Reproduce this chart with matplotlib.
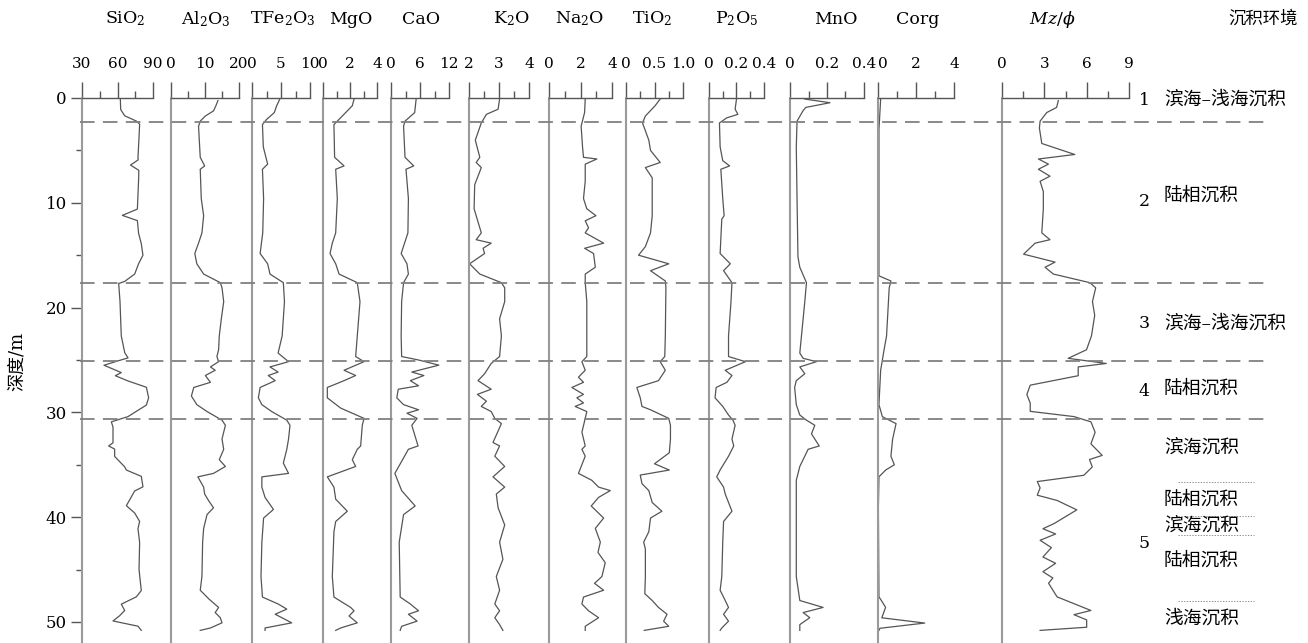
import matplotlib
matplotlib.use('Agg')
import matplotlib.pyplot as plt

# ---- data (depth in m, oxide contents) ----
sio2_depth = [0.1, 1.1, 1.7, 2.2, 2.5, 3.7, 5.7, 5.9, 6.4, 6.9, 7.6, 10.6, 11.2, 11.7, 12.9, 13.9, 15.0,
              15.8, 16.8, 17.5, 17.7, 19.4, 22.7, 24.3, 24.8, 25.1, 25.5, 26.2, 26.5, 27.0, 27.6, 28.6,
              29.3, 29.9, 30.4, 30.9, 31.4, 32.9, 33.2, 33.5, 34.2, 35.2, 35.5, 36.1, 37.1, 37.5, 38.9,
              39.6, 40.4, 41.1, 42.4, 45.0, 47.0, 47.6, 48.3, 48.9, 49.4, 49.9, 50.4, 50.8]
sio2 = [62.4, 62.7, 66.1, 75.9, 78.7, 78.2, 77.3, 77.5, 71.0, 78.0, 77.9, 76.8, 64.1, 76.8, 77.8, 80.1, 81.5,
        77.9, 74.5, 66.1, 61.0, 62.1, 63.2, 66.1, 68.9, 59.9, 48.6, 63.2, 58.2, 68.9, 84.4, 86.3,
        84.4, 75.9, 68.9, 54.8, 56.2, 56.2, 52.5, 57.6, 57.6, 66.1, 67.5, 80.1, 81.5, 74.5, 67.5,
        74.5, 78.7, 77.3, 78.7, 78.2, 80.1, 75.9, 63.2, 66.1, 61.8, 56.2, 77.3, 80.1]

al2o3_depth = [0.25, 0.74, 1.23, 1.72, 2.21, 2.7, 5.66, 6.48, 6.8, 9.59, 11.23, 12.87, 13.85, 14.84, 15.82,
               16.8, 17.62, 18.11, 19.43, 21.07, 22.7, 24.02, 24.67, 25.16, 25.66, 25.98, 26.48, 27.13,
               27.62, 28.44, 29.26, 29.92, 30.74, 31.23, 32.54, 33.52, 34.51, 35.16, 35.82, 36.15, 37.13,
               37.79, 38.44, 39.1, 39.75, 41.07, 42.38, 45.66, 46.97, 47.79, 48.61, 49.1, 49.59, 50.08,
               50.57, 50.8]
al2o3 = [13.8, 13.2, 12.5, 10.1, 8.6, 8.1, 8.6, 9.9, 8.6, 8.9, 9.6, 9.1, 8.1, 7.0, 7.6,
         9.6, 14.5, 15.0, 15.5, 14.8, 14.2, 14.0, 13.5, 14.0, 11.6, 13.0, 10.1, 11.6,
         6.7, 6.0, 7.6, 10.6, 15.0, 16.0, 15.0, 15.5, 14.2, 16.0, 12.5, 7.9, 9.6,
         9.9, 11.1, 12.5, 10.6, 9.6, 9.3, 9.1, 8.6, 11.1, 14.0, 13.0, 14.5, 15.0,
         11.6, 8.6]

tfe2o3_depth = [0.1, 0.74, 1.39, 2.05, 2.54, 4.67, 6.31, 6.8, 9.59, 12.87, 14.84, 15.82, 16.8, 17.62, 19.43,
                22.7, 24.34, 25.16, 25.66, 26.15, 26.48, 26.97, 27.62, 28.61, 29.26, 29.92, 30.74, 31.23,
                32.54, 33.52, 34.84, 35.82, 36.15, 37.13, 38.11, 39.26, 40.08, 42.38, 45.66, 47.62, 48.28,
                48.77, 49.26, 50.08, 50.57, 50.8]
tfe2o3 = [4.8, 4.25, 3.85, 2.5, 1.8, 1.95, 2.7, 1.8, 2.0, 1.85, 1.4, 2.7, 3.1, 5.4, 5.6,
          5.2, 4.5, 6.3, 3.1, 4.5, 2.8, 4.0, 1.4, 1.1, 1.7, 3.4, 6.0, 6.55,
          6.3, 6.0, 5.4, 6.3, 1.7, 1.7, 2.25, 3.7, 2.0, 1.7, 1.55, 1.8, 4.5,
          6.0, 4.0, 6.85, 2.25, 2.25]

mgo_depth = [0.1, 0.74, 1.72, 2.54, 5.66, 6.48, 6.8, 9.59, 12.87, 13.85, 14.84, 15.82, 16.8, 17.62, 19.43,
             22.7, 24.67, 25.16, 25.98, 26.48, 26.97, 27.62, 28.61, 29.59, 30.57, 31.23, 33.2, 33.52, 34.51,
             35.16, 36.15, 37.13, 38.28, 39.43, 40.41, 41.39, 45.66, 47.62, 48.61, 48.93, 49.43, 50.08,
             50.57, 50.8]
mgo = [2.3, 2.17, 1.43, 0.81, 0.86, 1.56, 0.94, 1.06, 0.94, 0.69, 0.52, 0.94, 1.19, 2.54, 2.74,
       2.54, 2.42, 3.04, 1.56, 2.42, 1.56, 0.32, 0.32, 1.31, 3.04, 2.91, 2.79, 2.54, 2.17,
       2.42, 0.32, 0.81, 0.94, 1.8, 0.94, 0.81, 0.69, 0.81, 2.05, 2.3, 1.93, 2.54,
       1.31, 0.94]

cao_depth = [0.1, 1.39, 2.21, 2.7, 5.66, 6.48, 6.8, 9.59, 12.87, 14.84, 15.82, 16.8, 17.62, 19.43, 22.7,
             24.67, 25.0, 25.49, 26.15, 26.48, 26.97, 27.46, 27.79, 28.61, 29.26, 29.75, 30.08, 30.57,
             31.23, 33.2, 33.52, 35.82, 37.46, 38.93, 39.75, 42.38, 47.62, 48.28, 48.93, 49.26, 49.92,
             50.41, 50.8]
cao = [5.2, 4.9, 2.9, 2.6, 2.9, 4.7, 3.1, 3.6, 3.5, 2.1, 3.3, 3.6, 2.6, 2.2, 2.1,
       2.2, 5.7, 9.9, 4.3, 6.8, 4.0, 5.7, 1.5, 1.2, 2.6, 5.7, 3.3, 5.4,
       4.3, 5.6, 3.6, 0.8, 2.2, 5.0, 2.6, 1.7, 1.9, 4.0, 5.7, 3.6, 5.4,
       2.2, 1.9]

k2o_depth = [0.1, 1.07, 1.56, 2.38, 4.02, 5.66, 6.15, 6.64, 8.28, 10.57, 12.87, 13.52, 13.85, 14.34, 14.84,
             15.82, 16.8, 17.62, 18.11, 19.43, 21.07, 22.7, 24.67, 25.33, 26.31, 26.97, 27.79, 28.28,
             28.93, 29.43, 29.92, 30.57, 31.07, 32.87, 33.2, 34.18, 35.16, 36.15, 37.13, 37.79, 39.1,
             40.74, 42.38, 44.02, 45.66, 46.97, 48.28, 48.93, 49.59, 50.25, 50.8]
k2o = [3.02, 2.97, 2.58, 2.41, 2.21, 2.36, 2.24, 2.41, 2.19, 2.17, 2.41, 2.24, 2.74, 2.47, 2.52,
       2.02, 2.36, 3.08, 3.19, 3.19, 3.02, 3.08, 3.02, 2.74, 2.52, 2.3, 2.74, 2.28,
       2.58, 2.41, 2.74, 2.86, 3.08, 2.8, 3.02, 2.86, 3.19, 2.8, 3.19, 2.91, 2.97,
       3.19, 3.02, 3.13, 2.91, 3.02, 2.86, 3.02, 2.86, 3.02, 3.13]

na2o_depth = [0.1, 1.39, 2.7, 4.67, 5.66, 5.82, 6.31, 7.95, 9.59, 10.57, 11.23, 11.72, 12.38, 12.87, 13.85,
              14.34, 14.84, 16.15, 16.8, 17.62, 19.43, 22.7, 24.67, 25.16, 25.98, 26.64, 27.13, 27.62,
              28.28, 28.61, 29.1, 29.43, 29.92, 30.57, 31.89, 33.2, 33.52, 34.18, 35.82, 36.48, 37.13,
              37.46, 38.11, 38.93, 40.08, 41.07, 42.38, 43.36, 44.34, 45.66, 46.31, 46.97, 47.62, 48.28,
              48.93, 49.59, 50.41, 50.8]
na2o = [2.3, 2.26, 2.04, 2.13, 2.19, 3.04, 2.3, 2.3, 2.19, 2.4, 2.98, 2.3, 2.51, 2.3, 3.47,
        2.26, 2.83, 2.94, 2.3, 2.3, 2.4, 2.4, 2.4, 2.09, 2.3, 1.87, 2.19, 1.45,
        2.19, 1.77, 2.19, 1.66, 2.4, 2.3, 2.09, 2.3, 2.09, 2.3, 1.87, 2.72, 3.15,
        3.89, 3.15, 2.68, 3.47, 2.94, 3.26, 3.11, 3.57, 3.36, 2.89, 3.47, 2.19, 2.09,
        2.51, 3.15, 2.3, 2.3]

tio2_depth = [0.1, 0.74, 1.72, 2.38, 4.02, 5.0, 6.15, 6.64, 7.62, 8.93, 11.23, 12.87, 14.18, 15.0, 15.82,
              16.48, 17.46, 18.11, 22.7, 24.67, 25.16, 25.98, 26.97, 27.62, 28.61, 29.43, 29.75, 30.57,
              31.23, 32.54, 33.85, 34.9, 35.5, 35.98, 36.8, 37.46, 38.6, 39.43, 40.08, 41.39, 42.38,
              43.03, 45.66, 47.3, 47.95, 48.61, 49.26, 49.92, 50.41, 50.8]
tio2 = [0.6, 0.51, 0.34, 0.29, 0.4, 0.43, 0.6, 0.34, 0.46, 0.46, 0.46, 0.43, 0.34, 0.22, 0.75,
        0.43, 0.69, 0.7, 0.69, 0.68, 0.6, 0.69, 0.57, 0.19, 0.25, 0.28, 0.43, 0.75,
        0.78, 0.78, 0.76, 0.5, 0.76, 0.25, 0.28, 0.4, 0.46, 0.63, 0.43, 0.4, 0.31,
        0.34, 0.34, 0.33, 0.46, 0.57, 0.72, 0.66, 0.75, 0.32]

p2o5_depth = [0.1, 1.07, 1.56, 1.89, 2.38, 4.67, 5.98, 6.48, 6.8, 9.59, 11.23, 11.56, 14.84, 15.82, 16.48,
              17.62, 19.43, 22.7, 24.67, 25.16, 25.98, 26.48, 27.13, 27.62, 28.61, 29.43, 30.25, 30.74,
              31.23, 32.54, 33.2, 34.18, 35.49, 36.15, 37.13, 37.79, 39.43, 40.41, 42.38, 45.66, 46.97,
              47.95, 48.61, 49.26, 49.92, 50.57, 50.8]
p2o5 = [0.2, 0.19, 0.21, 0.13, 0.076, 0.081, 0.1, 0.15, 0.086, 0.1, 0.11, 0.093, 0.081, 0.155, 0.106,
        0.167, 0.16, 0.142, 0.142, 0.265, 0.118, 0.167, 0.13, 0.052, 0.044, 0.1, 0.142, 0.174,
        0.19, 0.167, 0.18, 0.142, 0.081, 0.056, 0.106, 0.118, 0.167, 0.106, 0.1, 0.093, 0.081,
        0.118, 0.142, 0.106, 0.142, 0.093, 0.081]

mno_depth = [0.1, 0.45, 0.9, 1.23, 2.21, 4.67, 9.59, 15.16, 16.15, 17.62, 19.43, 22.7, 24.34, 24.84, 25.16,
             25.66, 26.31, 26.97, 27.62, 29.26, 30.25, 30.74, 31.23, 32.05, 32.54, 33.2, 33.52, 35.16,
             36.48, 39.1, 45.66, 47.95, 48.61, 49.1, 49.59, 50.25, 50.8]
mno = [0.08, 0.216, 0.085, 0.07, 0.038, 0.034, 0.038, 0.043, 0.053, 0.089, 0.08, 0.062, 0.053, 0.071, 0.143,
       0.053, 0.08, 0.034, 0.025, 0.034, 0.053, 0.089, 0.134, 0.116, 0.134, 0.158, 0.098, 0.053,
       0.034, 0.034, 0.034, 0.053, 0.179, 0.071, 0.107, 0.053, 0.053]

corg_depth = [0.1, 3.0, 16.97, 17.46, 18.11, 21.07, 22.7, 24.02, 25.98, 29.26, 30.41, 31.07, 32.54, 34.18,
              35.0, 35.49, 36.15, 39.1, 47.6, 47.9, 48.6, 49.6, 50.1, 50.6, 50.8]
corg = [0.14, 0.05, 0.05, 0.68, 0.59, 0.5, 0.45, 0.32, 0.14, 0.05, 0.23, 0.95, 0.77, 0.68,
        0.86, 0.41, 0.05, 0.02, 0.05, 0.16, 0.4, 0.2, 2.46, 0.1, 0.05]

mz_depth = [0.25, 0.9, 1.39, 2.21, 2.87, 4.34, 5.39, 5.82, 6.31, 6.8, 7.46, 7.95, 8.93, 10.57, 12.87,
            13.52, 13.85, 14.9, 15.66, 16.15, 16.8, 17.62, 18.11, 19.43, 20.74, 22.7, 24.02, 24.84,
            25.33, 25.66, 26.5, 27.4, 28.3, 29.1, 29.9, 30.4, 30.9, 31.9, 33.0, 34.1, 34.5, 35.2,
            36.0, 36.6, 37.2, 37.9, 38.4, 39.3, 40.6, 41.1, 41.6, 42.2, 42.9, 43.8, 44.4, 45.2,
            45.8, 46.3, 47.6, 48.9, 49.3, 49.8, 50.5, 50.8]
mz = [3.99, 3.87, 3.17, 2.7, 2.65, 2.82, 5.16, 2.58, 3.29, 2.58, 3.4, 2.7, 2.93, 2.93, 2.82,
      3.4, 2.35, 1.53, 3.76, 3.05, 3.64, 6.22, 6.64, 6.41, 6.57, 6.34, 5.99, 4.69,
      7.39, 5.4, 5.4, 2.0, 1.76, 2.0, 2.0, 5.1, 6.3, 6.6, 6.3, 7.1, 6.2, 6.4,
      5.8, 2.5, 2.7, 2.5, 3.9, 5.3, 3.7, 2.9, 3.8, 2.7, 3.5, 2.9, 3.8, 2.9,
      3.6, 3.3, 3.9, 6.3, 5.1, 6.0, 6.0, 2.7]

# unit boundaries and environment column
boundaries = [2.3, 17.7, 25.1, 30.6]
sub_boundaries = [36.6, 39.9, 41.7, 48.0]
unit_numbers = ['1', '2', '3', '4', '5']
unit_number_depths = [0.2, 9.9, 21.5, 28.05, 42.5]
env_texts = ['滨海–浅海沉积', '陆相沉积', '滨海–浅海沉积', '陆相沉积', '滨海沉积',
             '陆相沉积', '滨海沉积', '陆相沉积', '浅海沉积']
env_depths = [0.2, 9.35, 21.5, 27.7, 33.4, 38.3, 40.8, 44.1, 49.7]

# ---- style ----
plt.rcParams['font.family'] = ['DejaVu Serif', 'Noto Sans CJK SC']
plt.rcParams['mathtext.fontset'] = 'dejavuserif'
plt.rcParams['lines.scale_dashes'] = False

W, H = 1308, 643
fig = plt.figure(figsize=(W / 100, H / 100), dpi=100)

top_px = 98
depth_max = 52.0
ax_bottom = 1 - (top_px + depth_max * 10.48) / H
ax_height = 1 - top_px / H - ax_bottom

curve_color = '#555555'
spine_gray = '#9a9a9a'

# name, depth, values, xlim, major ticks, labels, minor ticks, left px, right px, header x
panels = [
    ('SiO$_2$', sio2_depth, sio2, (30, 90), [30, 60, 90], ['30', '60', '90'], [45, 75], 82, 153, 125),
    ('Al$_2$O$_3$', al2o3_depth, al2o3, (0, 20), [0, 10, 20], ['0', '10', '20'], [5, 15], 171, 239, 206),
    ('TFe$_2$O$_3$', tfe2o3_depth, tfe2o3, (0, 10), [0, 5, 10], ['0', '5', '10'], [2.5, 7.5], 252, 310, 283),
    ('MgO', mgo_depth, mgo, (0, 4), [0, 2, 4], ['0', '2', '4'], [1, 3], 323, 377, 351),
    ('CaO', cao_depth, cao, (0, 12), [0, 6, 12], ['0', '6', '12'], [3, 9], 391, 449, 421),
    ('K$_2$O', k2o_depth, k2o, (2, 4), [2, 3, 4], ['2', '3', '4'], [2.5, 3.5], 469, 529, 511),
    ('Na$_2$O', na2o_depth, na2o, (0, 4), [0, 2, 4], ['0', '2', '4'], [1, 3], 549, 612, 580),
    ('TiO$_2$', tio2_depth, tio2, (0, 1), [0, 0.5, 1.0], ['0', '0.5', '1.0'], [0.25, 0.75], 626, 683, 652),
    ('P$_2$O$_5$', p2o5_depth, p2o5, (0, 0.4), [0, 0.2, 0.4], ['0', '0.2', '0.4'], [0.1, 0.3], 709, 764, 737),
    ('MnO', mno_depth, mno, (0, 0.4), [0, 0.2, 0.4], ['0', '0.2', '0.4'], [0.1, 0.3], 790, 864, 836),
    ('Corg', corg_depth, corg, (0, 4), [0, 2, 4], ['0', '2', '4'], [1, 3], 878, 954, 918),
    (r'$Mz/\phi$', mz_depth, mz, (0, 9), [0, 3, 6, 9], ['0', '3', '6', '9'], [1.5, 4.5, 7.5], 1002, 1129, 1052),
]

for i, (name, dep, val, xlim, major, labels, minor, left, right, hx) in enumerate(panels):
    ax = fig.add_axes([left / W, ax_bottom, (right - left) / W, ax_height])
    ax.patch.set_alpha(0)
    ax.plot(val, dep, color=curve_color, lw=0.9, clip_on=False)
    ax.set_xlim(*xlim)
    ax.set_ylim(depth_max, 0)

    ax.spines['bottom'].set_visible(False)
    ax.spines['right'].set_visible(False)
    ax.spines['top'].set_color('#555555')
    ax.spines['top'].set_linewidth(1.0)
    ax.spines['left'].set_color(spine_gray)
    ax.spines['left'].set_linewidth(1.5)

    ax.xaxis.set_ticks_position('top')
    ax.set_xticks(major)
    ax.set_xticklabels(labels)
    ax.set_xticks(minor, minor=True)
    ax.tick_params(axis='x', which='major', direction='out', length=11.5, width=1.0,
                   color='#555555', pad=8, labelsize=11)
    ax.tick_params(axis='x', which='minor', direction='out', length=5, width=1.0, color='#555555')

    # Corg's "0" sits right against MnO's "0.4", as in the original
    if name == 'Corg':
        ax.get_xticklabels()[0].set_horizontalalignment('left')

    if i == 0:
        ax.set_yticks([0, 10, 20, 30, 40, 50])
        ax.set_yticks([5, 15, 25, 35, 45], minor=True)
        ax.tick_params(axis='y', which='major', length=8, width=1.0, color='#555555',
                       labelsize=12, pad=3)
        ax.tick_params(axis='y', which='minor', length=4.5, width=1.0, color='#555555')
    else:
        ax.set_yticks([])

    fig.text(hx / W, 1 - 19 / H, name, ha='center', va='center', fontsize=12.5)

# overlay in pixel-x / depth-y coordinates for boundaries and environment labels
ov = fig.add_axes([0, ax_bottom, 1, ax_height])
ov.set_xlim(0, W)
ov.set_ylim(depth_max, 0)
ov.axis('off')
ov.patch.set_alpha(0)

ov.hlines(boundaries, 80, 1265, colors='#808080', lw=1.3, linestyles=(0, (10.5, 6)))
ov.hlines(sub_boundaries, 1178, 1254, colors='#909090', lw=0.7, linestyles=(0, (1, 1)))

for num, d in zip(unit_numbers, unit_number_depths):
    ov.text(1144, d, num, ha='center', va='center', fontsize=12.5)
for txt, d in zip(env_texts, env_depths):
    ov.text(1164, d, txt, ha='left', va='center', fontsize=13.5)

fig.text(1263 / W, 1 - 19 / H, '沉积环境', ha='center', va='center', fontsize=12.5)
fig.text(17 / W, 1 - 361 / H, '深度/m', ha='center', va='center', rotation=90, fontsize=13)

fig.savefig('out.png', dpi=100)
